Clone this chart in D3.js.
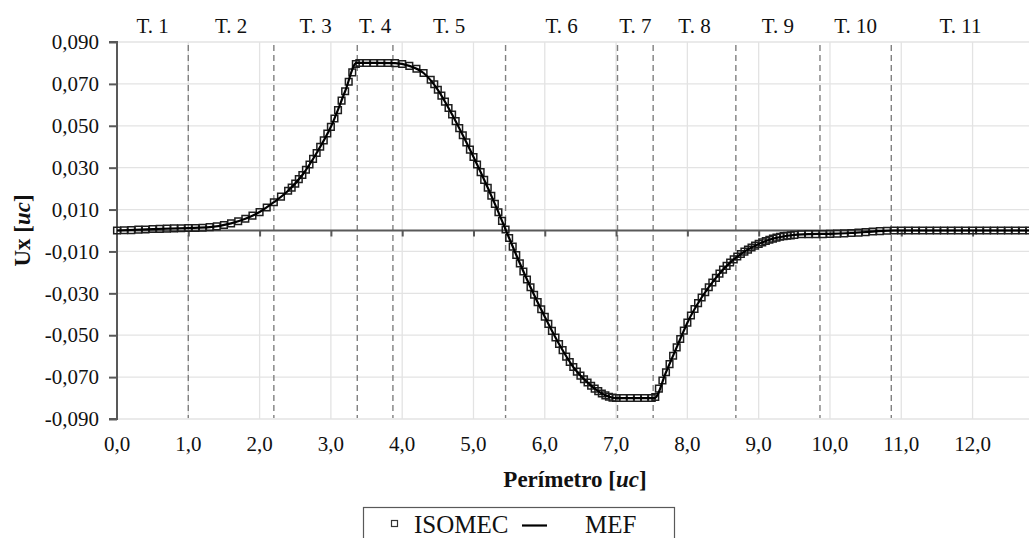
<!DOCTYPE html>
<html>
<head>
<meta charset="utf-8">
<script src="https://cdn.jsdelivr.net/npm/d3@7"></script>
<style>
  body { margin: 0; background: #fff; }
  svg { display: block; font-family: "Liberation Serif", "Times New Roman", serif; }
</style>
</head>
<body>
<div id="chart"></div>
<script>
// ===== data =====
// ISOMEC markers [perimeter, Ux]
var isomecPoints = [
  [0.0, 0.0000], [0.1, 0.0001], [0.2, 0.0002], [0.3, 0.0004], [0.4, 0.0005], [0.5, 0.0007],
  [0.6, 0.0008], [0.7, 0.0009], [0.8, 0.0010], [0.9, 0.0011], [1.0, 0.0012], [1.1, 0.0012],
  [1.2, 0.0013], [1.3, 0.0016], [1.4, 0.0020], [1.5, 0.0026], [1.6, 0.0034], [1.7, 0.0044],
  [1.8, 0.0056], [1.9, 0.0071], [2.0, 0.0088], [2.1, 0.0110], [2.2, 0.0135], [2.3, 0.0162],
  [2.4, 0.0190], [2.45, 0.0205], [2.5, 0.0224], [2.55, 0.0245], [2.6, 0.0265], [2.65, 0.0290],
  [2.7, 0.0315], [2.75, 0.0342], [2.8, 0.0370], [2.85, 0.0400], [2.9, 0.0430], [2.95, 0.0463],
  [3.0, 0.0495], [3.05, 0.0535], [3.1, 0.0575], [3.15, 0.0620], [3.2, 0.0665], [3.25, 0.0710],
  [3.3, 0.0755], [3.35, 0.0795], [3.4, 0.0800], [3.5, 0.0800], [3.6, 0.0800], [3.7, 0.0800],
  [3.8, 0.0800], [3.9, 0.0799], [4.0, 0.0795], [4.1, 0.0786], [4.2, 0.0772], [4.3, 0.0752],
  [4.4, 0.0720], [4.45, 0.0698], [4.5, 0.0672], [4.55, 0.0644], [4.6, 0.0615], [4.65, 0.0585],
  [4.7, 0.0554], [4.75, 0.0522], [4.8, 0.0489], [4.85, 0.0455], [4.9, 0.0421], [4.95, 0.0386],
  [5.0, 0.0351], [5.05, 0.0315], [5.1, 0.0279], [5.15, 0.0242], [5.2, 0.0204], [5.25, 0.0166],
  [5.3, 0.0127], [5.35, 0.0087], [5.4, 0.0046], [5.45, 0.0005], [5.5, -0.0036], [5.55, -0.0077],
  [5.6, -0.0117], [5.65, -0.0157], [5.7, -0.0196], [5.75, -0.0234], [5.8, -0.0271], [5.85, -0.0307],
  [5.9, -0.0342], [5.95, -0.0376], [6.0, -0.0412], [6.05, -0.0446], [6.1, -0.0479], [6.15, -0.0511],
  [6.2, -0.0542], [6.25, -0.0571], [6.3, -0.0602], [6.35, -0.0628], [6.4, -0.0652], [6.45, -0.0674],
  [6.5, -0.0693], [6.55, -0.0710], [6.6, -0.0726], [6.65, -0.0741], [6.7, -0.0755], [6.75, -0.0767],
  [6.8, -0.0778], [6.85, -0.0787], [6.9, -0.0794], [6.95, -0.0798], [7.0, -0.0800], [7.1, -0.0800],
  [7.2, -0.0800], [7.3, -0.0800], [7.4, -0.0800], [7.5, -0.0800], [7.55, -0.0795], [7.6, -0.0755],
  [7.65, -0.0716], [7.7, -0.0677], [7.75, -0.0638], [7.8, -0.0598], [7.85, -0.0558], [7.9, -0.0518],
  [7.95, -0.0478], [8.0, -0.0440], [8.05, -0.0406], [8.1, -0.0375], [8.15, -0.0347], [8.2, -0.0320],
  [8.25, -0.0295], [8.3, -0.0271], [8.35, -0.0248], [8.4, -0.0226], [8.45, -0.0206], [8.5, -0.0187],
  [8.55, -0.0169], [8.6, -0.0153], [8.65, -0.0138], [8.7, -0.0124], [8.75, -0.0112], [8.8, -0.0101],
  [8.85, -0.0091], [8.9, -0.0081], [8.95, -0.0072], [9.0, -0.0064], [9.05, -0.0057], [9.1, -0.0050],
  [9.15, -0.0044], [9.2, -0.0039], [9.25, -0.0034], [9.3, -0.0030], [9.35, -0.0027], [9.4, -0.0025],
  [9.45, -0.0023], [9.5, -0.0021], [9.6, -0.0018], [9.7, -0.0017], [9.8, -0.0017], [9.9, -0.0017],
  [10.0, -0.0016], [10.1, -0.0015], [10.2, -0.0014], [10.3, -0.0012], [10.4, -0.0010], [10.5, -0.0008],
  [10.6, -0.0005], [10.7, -0.0003], [10.8, -0.0001], [10.9, 0.0000], [11.0, 0.0000], [11.1, 0.0000],
  [11.2, 0.0000], [11.3, 0.0000], [11.4, 0.0000], [11.5, 0.0000], [11.6, 0.0000], [11.7, 0.0000],
  [11.8, 0.0000], [11.9, 0.0000], [12.0, 0.0000], [12.1, 0.0000], [12.2, 0.0000], [12.3, 0.0000],
  [12.4, 0.0000], [12.5, 0.0000], [12.6, 0.0000], [12.7, 0.0000], [12.8, 0.0000]
];

// MEF solid line [perimeter, Ux]
var mefPoints = [
  [0.0, 0.0000], [0.5, 0.0007], [1.0, 0.0012], [1.3, 0.0016], [1.6, 0.0034], [1.8, 0.0056],
  [2.0, 0.0088], [2.2, 0.0135], [2.4, 0.0190], [2.6, 0.0265], [2.8, 0.0370], [3.0, 0.0495],
  [3.2, 0.0665], [3.36, 0.0800], [3.6, 0.0800], [3.9, 0.0799], [4.1, 0.0786], [4.3, 0.0752],
  [4.5, 0.0672], [4.7, 0.0554], [4.9, 0.0421], [5.1, 0.0279], [5.3, 0.0127], [5.45, 0.0005],
  [5.6, -0.0117], [5.8, -0.0271], [6.0, -0.0412], [6.2, -0.0542], [6.4, -0.0652], [6.6, -0.0726],
  [6.8, -0.0778], [7.0, -0.0800], [7.3, -0.0800], [7.54, -0.0800], [7.7, -0.0677], [7.9, -0.0518],
  [8.0, -0.0440], [8.2, -0.0320], [8.4, -0.0226], [8.6, -0.0153], [8.8, -0.0101], [9.0, -0.0064],
  [9.2, -0.0039], [9.4, -0.0025], [9.7, -0.0017], [10.0, -0.0016], [10.3, -0.0012], [10.6, -0.0005],
  [10.9, 0.0000], [11.5, 0.0000], [12.2, 0.0000], [12.8, 0.0000]
];

// tranche boundaries (dashed lines) and their labels
var trancheBounds = [0, 1.0, 2.2, 3.37, 3.87, 5.45, 7.02, 7.52, 8.68, 9.86, 10.86, 12.8];
var trancheLabels = ['T. 1', 'T. 2', 'T. 3', 'T. 4', 'T. 5', 'T. 6', 'T. 7', 'T. 8', 'T. 9', 'T. 10', 'T. 11'];

var xTicks = [0, 1, 2, 3, 4, 5, 6, 7, 8, 9, 10, 11, 12];
var yTicks = [0.09, 0.07, 0.05, 0.03, 0.01, -0.01, -0.03, -0.05, -0.07, -0.09];

var seriesNames = ['ISOMEC', 'MEF'];

// ===== chart =====
var width = 1029;
var height = 538;
// plot area edges (don't call these top/left: window.top is read-only)
var plotL = 117, plotR = 1029.6, plotT = 42, plotB = 419;

var locale = d3.formatLocale({ decimal: ',', thousands: '.', grouping: [3], currency: ['', ''], minus: '-' });
var fmtX = locale.format('.1f');
var fmtY = locale.format('.3f');

var x = d3.scaleLinear().domain([0, 12.8]).range([plotL, plotR]);
var y = d3.scaleLinear().domain([-0.09, 0.09]).range([plotB, plotT]);

var svg = d3.select('#chart')
  .append('svg')
  .attr('width', width)
  .attr('height', height);

// gridlines
svg.append('g')
  .selectAll('line')
  .data(yTicks)
  .enter()
  .append('line')
  .attr('x1', plotL).attr('x2', width)
  .attr('y1', function (d) { return y(d); })
  .attr('y2', function (d) { return y(d); })
  .attr('stroke', '#e3e3e3')
  .attr('stroke-width', 1.3);

svg.append('g')
  .selectAll('line')
  .data(xTicks.slice(1))
  .enter()
  .append('line')
  .attr('x1', function (d) { return x(d); })
  .attr('x2', function (d) { return x(d); })
  .attr('y1', plotT).attr('y2', plotB)
  .attr('stroke', '#e3e3e3')
  .attr('stroke-width', 1.3);

// dashed tranche lines
svg.append('g')
  .selectAll('line')
  .data(trancheBounds.slice(1, -1))
  .enter()
  .append('line')
  .attr('x1', function (d) { return x(d); })
  .attr('x2', function (d) { return x(d); })
  .attr('y1', plotT + 3).attr('y2', plotB - 1)
  .attr('stroke', '#808080')
  .attr('stroke-width', 1.4)
  .attr('stroke-dasharray', '6,4');

// tranche labels, centred in each tranche
svg.append('g')
  .selectAll('text')
  .data(trancheLabels)
  .enter()
  .append('text')
  .attr('x', function (d, i) { return x((trancheBounds[i] + trancheBounds[i + 1]) / 2); })
  .attr('y', 33)
  .attr('text-anchor', 'middle')
  .attr('font-size', 21)
  .attr('fill', '#111')
  .text(function (d) { return d; });

// y axis
var yAxis = d3.axisLeft(y)
  .tickValues(yTicks)
  .tickSize(8)
  .tickPadding(10)
  .tickFormat(fmtY);

var gy = svg.append('g')
  .attr('transform', 'translate(' + plotL + ',0)')
  .call(yAxis);
gy.select('.domain').attr('stroke', '#595959').attr('stroke-width', 2).attr('d', 'M-8,' + plotT + 'H0V' + plotB + 'H-8');
gy.selectAll('.tick line').attr('stroke', '#595959').attr('stroke-width', 2);
gy.selectAll('.tick text')
  .attr('font-family', '"Liberation Serif", serif')
  .attr('font-size', 21)
  .attr('fill', '#111');

// x axis on the zero line (ticks only), labels at the bottom
var xAxis = d3.axisBottom(x)
  .tickValues(xTicks.slice(1))
  .tickSize(6)
  .tickFormat('');

var gx = svg.append('g')
  .attr('transform', 'translate(0,' + y(0) + ')')
  .call(xAxis);
gx.select('.domain').attr('stroke', '#595959').attr('stroke-width', 2).attr('d', 'M' + plotL + ',0H' + width);
gx.selectAll('.tick line').attr('stroke', '#595959').attr('stroke-width', 2);

svg.append('g')
  .selectAll('text')
  .data(xTicks)
  .enter()
  .append('text')
  .attr('x', function (d) { return x(d); })
  .attr('y', 451)
  .attr('text-anchor', 'middle')
  .attr('font-size', 21)
  .attr('fill', '#111')
  .text(function (d) { return fmtX(d); });

// ISOMEC markers
var square = d3.symbol().type(d3.symbolSquare).size(44);
svg.append('g')
  .selectAll('path')
  .data(isomecPoints)
  .enter()
  .append('path')
  .attr('d', square)
  .attr('transform', function (d) { return 'translate(' + x(d[0]) + ',' + y(d[1]) + ')'; })
  .attr('fill', 'none')
  .attr('stroke', '#1e1e1e')
  .attr('stroke-width', 1.5);

// MEF line
var line = d3.line()
  .x(function (d) { return x(d[0]); })
  .y(function (d) { return y(d[1]); })
  .curve(d3.curveMonotoneX);

svg.append('path')
  .datum(mefPoints)
  .attr('d', line)
  .attr('fill', 'none')
  .attr('stroke', '#000')
  .attr('stroke-width', 2.2);

// axis titles
var xt = svg.append('text')
  .attr('x', 575)
  .attr('y', 487)
  .attr('text-anchor', 'middle')
  .attr('font-size', 23)
  .attr('font-weight', 'bold')
  .attr('fill', '#111');
xt.append('tspan').text('Perímetro [');
xt.append('tspan').attr('font-style', 'italic').text('uc');
xt.append('tspan').text(']');

var yt = svg.append('text')
  .attr('transform', 'translate(30,' + y(0) + ') rotate(-90)')
  .attr('text-anchor', 'middle')
  .attr('font-size', 23)
  .attr('font-weight', 'bold')
  .attr('fill', '#111');
yt.append('tspan').text('Ux [');
yt.append('tspan').attr('font-style', 'italic').text('uc');
yt.append('tspan').text(']');

// legend
var legend = svg.append('g');
legend.append('rect')
  .attr('x', 363.5).attr('y', 507.5)
  .attr('width', 311).attr('height', 40)
  .attr('fill', '#fff')
  .attr('stroke', '#595959')
  .attr('stroke-width', 1.2);

legend.append('rect')
  .attr('x', 391.5).attr('y', 520.5)
  .attr('width', 6).attr('height', 6)
  .attr('fill', '#fff')
  .attr('stroke', '#333')
  .attr('stroke-width', 1.2);
legend.append('text')
  .attr('x', 414).attr('y', 533)
  .attr('font-size', 25)
  .attr('fill', '#111')
  .text(seriesNames[0]);

legend.append('line')
  .attr('x1', 522).attr('x2', 547)
  .attr('y1', 525.5).attr('y2', 525.5)
  .attr('stroke', '#000')
  .attr('stroke-width', 2.2);
legend.append('text')
  .attr('x', 585).attr('y', 533)
  .attr('font-size', 25)
  .attr('fill', '#111')
  .text(seriesNames[1]);
</script>
</body>
</html>
